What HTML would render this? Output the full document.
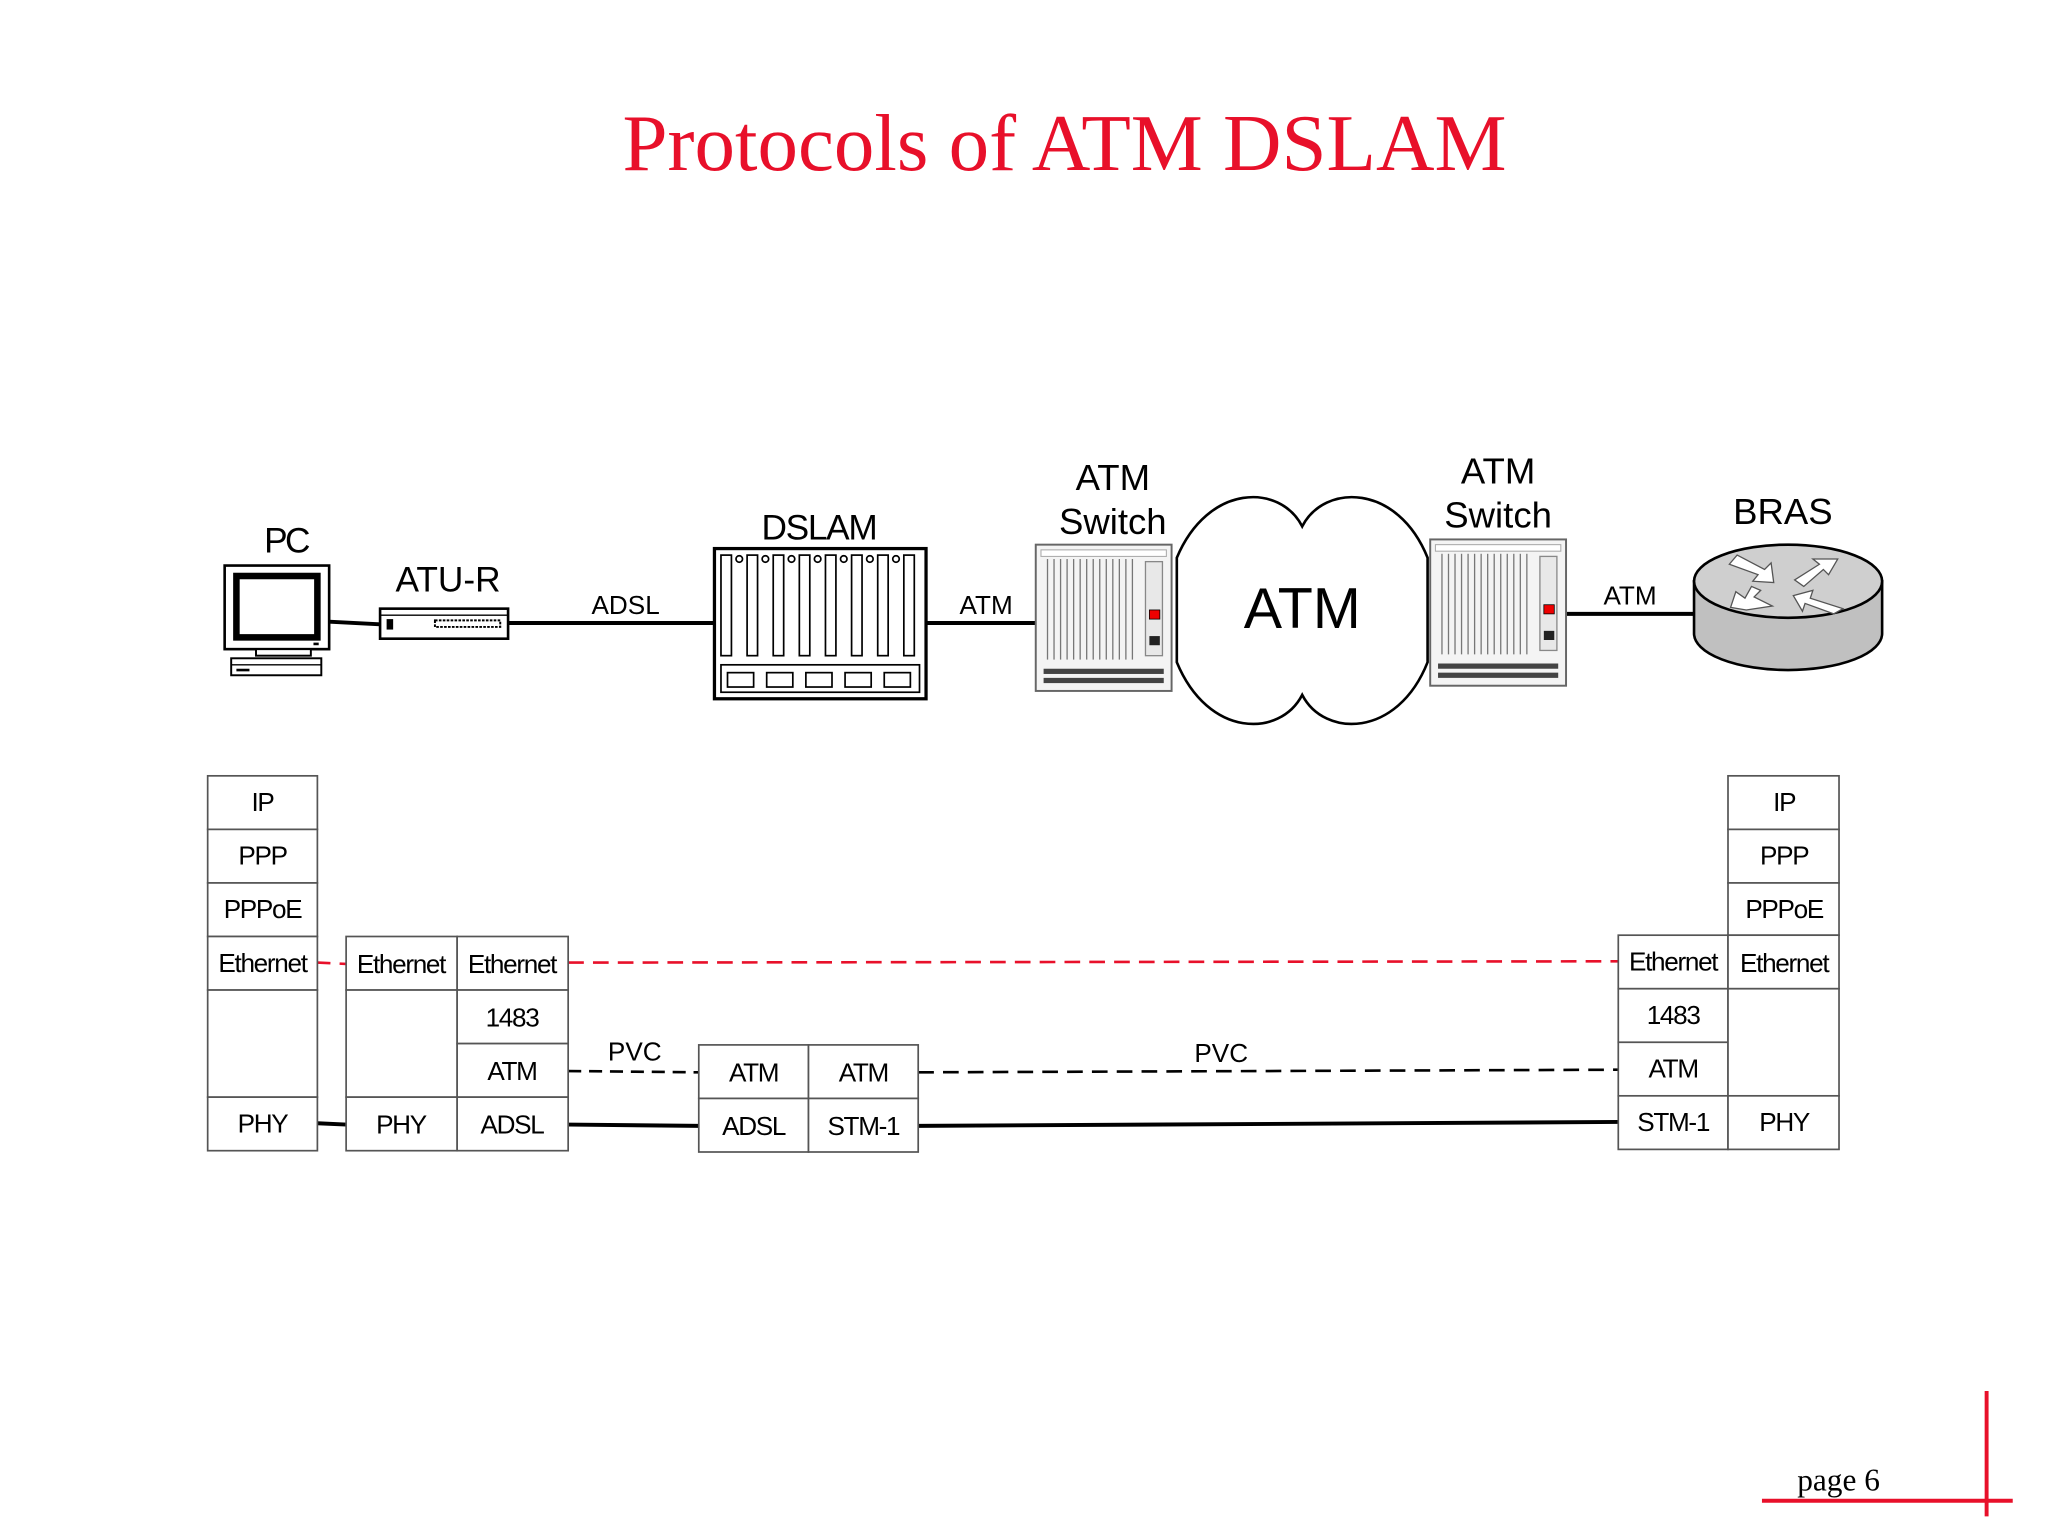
<!DOCTYPE html>
<html><head><meta charset="utf-8"><style>html,body{margin:0;padding:0;background:#fff}svg{display:block}</style></head>
<body>
<svg xmlns="http://www.w3.org/2000/svg" width="2048" height="1536" viewBox="0 0 1568 1176">
<rect width="1568" height="1176" fill="#fff"/>
<text x="815" y="130" font-family="Liberation Serif, serif" font-size="62" fill="#e8102a" text-anchor="middle">Protocols of ATM DSLAM</text>

<!-- Cloud -->
<path d="M901,427 C925,370 980,370 997,403 C1014,370 1070,370 1093,427 L1093,507 C1070,565 1014,565 997,532 C980,565 925,565 901,507 Z" fill="#fff" stroke="#000" stroke-width="2"/>

<g font-family="Liberation Sans, sans-serif" fill="#000" text-anchor="middle">
<text x="219" y="423" font-size="27" letter-spacing="-2">PC</text>
<text x="343" y="453" font-size="27">ATU-R</text>
<text x="479" y="470" font-size="20">ADSL</text>
<text x="627" y="413" font-size="27" letter-spacing="-1">DSLAM</text>
<text x="755" y="470" font-size="20">ATM</text>
<text x="852" y="375" font-size="28">ATM</text>
<text x="852" y="409" font-size="28">Switch</text>
<text x="997" y="481" font-size="44">ATM</text>
<text x="1147" y="370" font-size="28">ATM</text>
<text x="1147" y="404" font-size="28">Switch</text>
<text x="1248" y="463" font-size="20">ATM</text>
<text x="1365" y="401" font-size="28">BRAS</text>
</g>

<!-- connection lines -->
<g stroke="#000" stroke-width="3">
<line x1="252" y1="476" x2="291" y2="478"/>
<line x1="389" y1="477" x2="547" y2="477"/>
<line x1="709" y1="477" x2="793" y2="477"/>
<line x1="1199" y1="470" x2="1297" y2="470"/>
</g>

<!-- PC -->
<g stroke="#000" fill="#fff">
<rect x="172" y="433" width="80" height="64" stroke-width="2"/>
<rect x="181" y="441" width="62" height="47" stroke-width="5"/>
<rect x="196" y="497" width="42" height="5" stroke-width="1.5"/>
<rect x="177" y="504" width="69" height="13" stroke-width="1.5"/>
<line x1="177" y1="509" x2="246" y2="509" stroke-width="1"/>
</g>
<rect x="240" y="492" width="4" height="2" fill="#000"/>
<rect x="181" y="512" width="10" height="2" fill="#000"/>

<!-- ATU-R -->
<rect x="291" y="466" width="98" height="23" fill="#fff" stroke="#000" stroke-width="2"/>
<line x1="291" y1="471" x2="389" y2="471" stroke="#000" stroke-width="1"/>
<rect x="296" y="474" width="5" height="8" fill="#000"/>
<rect x="333" y="475" width="50" height="5" fill="#fff" stroke="#000" stroke-width="1.5" stroke-dasharray="2,1"/>

<!-- DSLAM -->
<rect x="547" y="420" width="162" height="115" fill="#fff" stroke="#000" stroke-width="2.5"/>
<g fill="#fff" stroke="#000" stroke-width="1.3">
<rect x="552" y="425" width="8" height="77"/><rect x="572" y="425" width="8" height="77"/><rect x="592" y="425" width="8" height="77"/><rect x="612" y="425" width="8" height="77"/><rect x="632" y="425" width="8" height="77"/><rect x="652" y="425" width="8" height="77"/><rect x="672" y="425" width="8" height="77"/><rect x="692" y="425" width="8" height="77"/>
<circle cx="566" cy="428" r="2.5"/><circle cx="586" cy="428" r="2.5"/><circle cx="606" cy="428" r="2.5"/><circle cx="626" cy="428" r="2.5"/><circle cx="646" cy="428" r="2.5"/><circle cx="666" cy="428" r="2.5"/><circle cx="686" cy="428" r="2.5"/>
<rect x="552" y="509" width="152" height="21"/>
<rect x="557" y="515" width="20" height="11"/><rect x="587" y="515" width="20" height="11"/><rect x="617" y="515" width="20" height="11"/><rect x="647" y="515" width="20" height="11"/><rect x="677" y="515" width="20" height="11"/>
</g>

<!-- ATM Switch 1 -->
<g id="sw">
<rect x="793" y="417" width="104" height="112" fill="#f4f4f4" stroke="#666" stroke-width="1.5"/>
<rect x="797" y="421" width="96" height="5" fill="#fff" stroke="#aaa" stroke-width="0.8"/>
<g stroke="#777" stroke-width="1">
<line x1="802" y1="428" x2="802" y2="505"/><line x1="807" y1="428" x2="807" y2="505"/><line x1="812" y1="428" x2="812" y2="505"/><line x1="817" y1="428" x2="817" y2="505"/><line x1="822" y1="428" x2="822" y2="505"/><line x1="827" y1="428" x2="827" y2="505"/><line x1="832" y1="428" x2="832" y2="505"/><line x1="837" y1="428" x2="837" y2="505"/><line x1="842" y1="428" x2="842" y2="505"/><line x1="847" y1="428" x2="847" y2="505"/><line x1="852" y1="428" x2="852" y2="505"/><line x1="857" y1="428" x2="857" y2="505"/><line x1="862" y1="428" x2="862" y2="505"/><line x1="867" y1="428" x2="867" y2="505"/>
</g>
<rect x="877" y="430" width="13" height="72" fill="#e8e8e8" stroke="#888" stroke-width="1"/>
<rect x="880" y="467" width="8" height="7" fill="#e00" stroke="#000" stroke-width="0.6"/>
<rect x="880" y="487" width="8" height="7" fill="#222"/>
<rect x="799" y="512" width="92" height="4" fill="#444"/>
<rect x="799" y="519" width="92" height="4" fill="#444"/>
</g>
<use href="#sw" x="302" y="-4"/>

<!-- BRAS -->
<path d="M1297,445 L1297,485 A72,28 0 0 0 1441,485 L1441,445 Z" fill="#c0c0c0" stroke="#000" stroke-width="2"/>
<ellipse cx="1369" cy="445" rx="72" ry="28" fill="#cfcfcf" stroke="#000" stroke-width="2"/>
<g fill="#fff" stroke="#555" stroke-width="1">
<polygon points="1324,432 1330,425 1351,436 1356,431 1358,446 1342,445 1346,440"/>
<polygon points="1374,444 1393,432 1388,428 1407,428 1400,440 1396,436 1381,449"/>
<polygon points="1348,452 1343,457 1357,464 1337,467 1325,465 1329,453 1336,458 1341,449"/>
<polygon points="1373,456 1388,452 1386,458 1411,466 1404,470 1382,462 1380,468"/>
</g>

<!-- Protocol lines -->
<g fill="none" stroke-width="2">
<line x1="243" y1="737" x2="265" y2="738" stroke="#e8102a" stroke-dasharray="10,7"/>
<line x1="435" y1="737" x2="1239" y2="736" stroke="#e8102a" stroke-dasharray="12,7"/>
<line x1="435" y1="820" x2="535" y2="821" stroke="#000" stroke-dasharray="10,6"/>
<line x1="703" y1="821" x2="1239" y2="819" stroke="#000" stroke-dasharray="12,7"/>
<line x1="243" y1="860" x2="265" y2="861" stroke="#000" stroke-width="3"/>
<line x1="435" y1="861" x2="535" y2="862" stroke="#000" stroke-width="3"/>
<line x1="703" y1="862" x2="1239" y2="859" stroke="#000" stroke-width="3"/>
</g>
<g font-family="Liberation Sans, sans-serif" font-size="20" text-anchor="middle">
<text x="486" y="812">PVC</text>
<text x="935" y="813">PVC</text>
</g>

<!-- Cells -->
<g fill="#fff" stroke="#555" stroke-width="1.3">
<rect x="159" y="594" width="84" height="41"/><rect x="159" y="635" width="84" height="41"/><rect x="159" y="676" width="84" height="41"/><rect x="159" y="717" width="84" height="41"/><rect x="159" y="758" width="84" height="82"/><rect x="159" y="840" width="84" height="41"/>
<rect x="265" y="717" width="85" height="41"/><rect x="265" y="758" width="85" height="82"/><rect x="265" y="840" width="85" height="41"/>
<rect x="350" y="717" width="85" height="41"/><rect x="350" y="758" width="85" height="41"/><rect x="350" y="799" width="85" height="41"/><rect x="350" y="840" width="85" height="41"/>
<rect x="535" y="800" width="84" height="41"/><rect x="619" y="800" width="84" height="41"/><rect x="535" y="841" width="84" height="41"/><rect x="619" y="841" width="84" height="41"/>
<rect x="1239" y="716" width="84" height="41"/><rect x="1239" y="757" width="84" height="41"/><rect x="1239" y="798" width="84" height="41"/><rect x="1239" y="839" width="84" height="41"/>
<rect x="1323" y="594" width="85" height="41"/><rect x="1323" y="635" width="85" height="41"/><rect x="1323" y="676" width="85" height="40"/><rect x="1323" y="716" width="85" height="41"/><rect x="1323" y="757" width="85" height="82"/><rect x="1323" y="839" width="85" height="41"/>
</g>
<g font-family="Liberation Sans, sans-serif" font-size="20" text-anchor="middle" fill="#000" letter-spacing="-1">
<text x="201" y="621">IP</text><text x="201" y="662">PPP</text><text x="201" y="703">PPPoE</text><text x="201" y="744">Ethernet</text><text x="201" y="867">PHY</text>
<text x="307" y="745">Ethernet</text><text x="307" y="868">PHY</text>
<text x="392" y="745">Ethernet</text><text x="392" y="786">1483</text><text x="392" y="827">ATM</text><text x="392" y="868">ADSL</text>
<text x="577" y="828">ATM</text><text x="661" y="828">ATM</text><text x="577" y="869">ADSL</text><text x="661" y="869">STM-1</text>
<text x="1281" y="743">Ethernet</text><text x="1281" y="784">1483</text><text x="1281" y="825">ATM</text><text x="1281" y="866">STM-1</text>
<text x="1366" y="621">IP</text><text x="1366" y="662">PPP</text><text x="1366" y="703">PPPoE</text><text x="1366" y="744">Ethernet</text><text x="1366" y="866">PHY</text>
</g>

<!-- footer -->
<line x1="1349" y1="1149" x2="1541" y2="1149" stroke="#e8102a" stroke-width="3"/>
<line x1="1521" y1="1065" x2="1521" y2="1161" stroke="#e8102a" stroke-width="3"/>
<text x="1376" y="1141" font-family="Liberation Serif, serif" font-size="24" fill="#000">page 6</text>
</svg>
</body></html>
